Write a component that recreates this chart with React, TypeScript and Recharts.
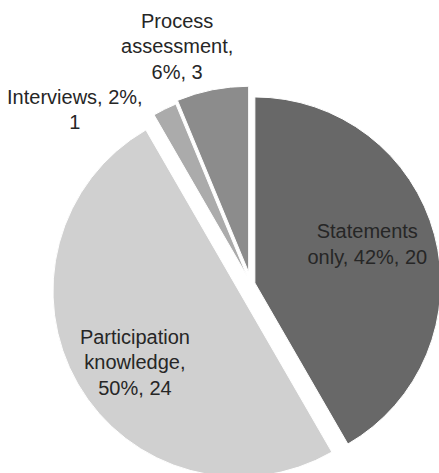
import { PieChart, Pie, Sector, Cell } from 'recharts'

const categories = ['Statements only', 'Participation knowledge', 'Interviews', 'Process assessment']
const counts = [20, 24, 1, 3]
const COLORS = ['#686868', '#d0d0d0', '#ababab', '#8c8c8c']

// slice pull-out (px) and label placement, per slice
const EXPLODE = [4, 14, 9, 12]
const LABEL_RADIUS = [123, 140, 248, 249]
const LABEL_TURN = [4, 4, 19, 6]
const WRAP = [13, 13, 15, 12]
const LINE_H = 25.5

const data = categories.map((name, i) => ({ name, value: counts[i] }))
const RAD = Math.PI / 180

function wrap(text: string, max: number) {
  const words = text.split(' ')
  const lines: string[] = []
  let cur = ''
  words.forEach((w) => {
    const next = cur ? cur + ' ' + w : w
    if (next.length > max && cur) {
      lines.push(cur)
      cur = w
    } else {
      cur = next
    }
  })
  if (cur) lines.push(cur)
  return lines
}

const sliceIndex = (props: any) => {
  const i = categories.indexOf(props.name)
  return i >= 0 ? i : props.index ?? 0
}

const renderShape = (props: any) => {
  const i = sliceIndex(props)
  const d = EXPLODE[i] ?? 0
  const dx = d * Math.cos(-props.midAngle * RAD)
  const dy = d * Math.sin(-props.midAngle * RAD)
  return <Sector {...props} cx={props.cx + dx} cy={props.cy + dy} />
}

const renderLabel = (props: any) => {
  const { cx, cy, midAngle, percent, value, name } = props
  const i = sliceIndex(props)
  const a = (midAngle + LABEL_TURN[i]) * RAD
  const x = cx + LABEL_RADIUS[i] * Math.cos(-a)
  const y = cy + LABEL_RADIUS[i] * Math.sin(-a)
  const lines = wrap(`${name}, ${Math.round(percent * 100)}%, ${value}`, WRAP[i])
  const top = y - ((lines.length - 1) * LINE_H) / 2
  return (
    <text
      x={x}
      y={top}
      textAnchor='middle'
      dominantBaseline='central'
      fill='#262626'
      fontSize={20}
      fontFamily='"Liberation Sans", Arial, sans-serif'
    >
      {lines.map((l, k) => (
        <tspan key={k} x={x} y={top + k * LINE_H} dominantBaseline='central'>
          {l}
        </tspan>
      ))}
    </text>
  )
}

export default function App() {
  return (
    <div style={{ position: 'absolute', left: 0, top: 0, background: '#fff' }}>
      <PieChart width={439} height={473} margin={{ top: 0, right: 0, bottom: 0, left: 0 }}>
        <Pie
          data={data}
          dataKey='value'
          nameKey='name'
          cx={251}
          cy={284}
          outerRadius={186}
          startAngle={90}
          endAngle={-270}
          stroke='#ffffff'
          strokeWidth={1}
          shape={renderShape}
          label={renderLabel}
          labelLine={false}
          isAnimationActive={false}
        >
          {data.map((entry, index) => (
            <Cell key={`cell-${index}`} fill={COLORS[index % COLORS.length]} />
          ))}
        </Pie>
      </PieChart>
    </div>
  )
}
